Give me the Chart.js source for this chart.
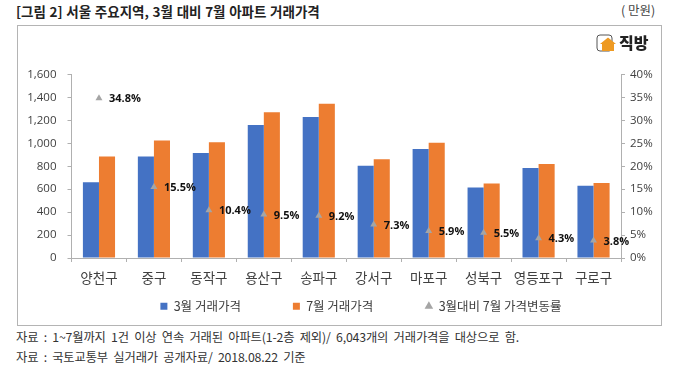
<!DOCTYPE html>
<html><head><meta charset="utf-8">
<script src="https://cdn.jsdelivr.net/npm/chart.js@4"></script>
<style>
html,body{margin:0;padding:0;background:#fff;width:680px;height:371px;overflow:hidden;font-family:"Noto Sans CJK KR","Noto Sans",sans-serif;color:#333}
.t{position:absolute;white-space:nowrap;line-height:1}
#frame{position:absolute;left:17px;top:25px;width:643px;height:299px;border:1px solid #b4b4b4;box-sizing:content-box}
#wrap{position:absolute;left:18px;top:26px;width:642px;height:298px}
</style></head><body>
<div class="t" style="left:16px;top:5px;font-size:13.5px;font-weight:700;word-spacing:.6px;color:#222">[그림 2] 서울 주요지역, 3월 대비 7월 아파트 거래가격</div>
<div class="t" style="left:621px;top:4px;font-size:12.5px;color:#444">( 만원)</div>
<div id="frame"></div>
<div id="wrap"><canvas id="c" width="642" height="298"></canvas></div>
<svg style="position:absolute;left:596px;top:34px" width="22" height="19" viewBox="0 0 22 19">
<rect x="1" y="1" width="15" height="16" rx="3" fill="#fff" stroke="#555" stroke-width="1"/>
<path d="M4 10 L12 3.5 L20 10 L18 10 L18 17 L6 17 L6 10 Z" fill="#ee9a22"/>
</svg>
<div class="t" style="left:619px;top:34px;font-size:16px;font-weight:900;color:#222">직방</div>
<div class="t" style="left:16px;top:331px;font-size:12.3px;letter-spacing:-.15px;word-spacing:2.7px;color:#333">자료 : 1~7월까지 1건 이상 연속 거래된 아파트(1-2층 제외)/ 6,043개의 거래가격을 대상으로 함.</div>
<div class="t" style="left:16px;top:351px;font-size:12.3px;letter-spacing:-.15px;word-spacing:2.7px;color:#333">자료 : 국토교통부 실거래가 공개자료/ 2018.08.22 기준</div>
<script>
const categories = ["양천구","중구","동작구","용산구","송파구","강서구","마포구","성북구","영등포구","구로구"];
const marchPrice = [660,885,915,1160,1230,805,950,615,785,630];
const julyPrice = [885,1025,1010,1270,1345,860,1005,650,820,655];
const changeRate = [34.8,15.5,10.4,9.5,9.2,7.3,5.9,5.5,4.3,3.8];
const seriesNames = ["3월 거래가격","7월 거래가격","3월대비 7월 가격변동률"];
const FONT = '"Noto Sans CJK KR","Noto Sans",sans-serif';
const TEXT = '#404040', AXIS = '#b0b0b0';

const rateLabels = {
  id:'rateLabels',
  afterDatasetsDraw(chart){
    const meta = chart.getDatasetMeta(2), ctx = chart.ctx;
    ctx.save();
    ctx.font = '700 11px "Open Sans",'+FONT;
    ctx.fillStyle = '#111';
    ctx.textBaseline = 'middle';
    meta.data.forEach((p,i)=>ctx.fillText(changeRate[i].toFixed(1)+'%', p.x+10, p.y+1));
    ctx.restore();
  }
};
/* Keeps the wide legend item spacing without letting it eat the plot height. */
const legendPlace = {
  id:'legendPlace',
  start(chart){
    const lg = chart.legend, fit = lg.fit;
    lg.fit = function(){ fit.call(this); this.height = 20; };
  },
  afterLayout(chart){
    const lg = chart.legend, pad = lg.options.labels.padding;
    lg.top = 282 - 8 - pad;
    lg.left += 22; lg.right += 22;
  }
};

new Chart(document.getElementById('c'),{
  data:{labels:categories,datasets:[
    {type:'bar',label:seriesNames[0],data:marchPrice,backgroundColor:'#4472C4',yAxisID:'y',order:2,barPercentage:1,categoryPercentage:0.585},
    {type:'bar',label:seriesNames[1],data:julyPrice,backgroundColor:'#ED7D31',yAxisID:'y',order:2,barPercentage:1,categoryPercentage:0.585},
    {type:'line',label:seriesNames[2],data:changeRate,showLine:false,yAxisID:'y2',order:1,pointStyle:'triangle',pointRadius:4,pointBackgroundColor:'#A5A5A5',pointBorderColor:'#A5A5A5',pointBorderWidth:0,backgroundColor:'#A5A5A5',borderColor:'#A5A5A5'}
  ]},
  options:{
    responsive:false,animation:false,
    layout:{padding:{top:48.5,left:0,right:0,bottom:12}},
    plugins:{
      title:{display:false},tooltip:{enabled:false},
      legend:{display:true,position:'bottom',
        labels:{usePointStyle:true,boxWidth:7,boxHeight:7,padding:52,color:TEXT,font:{family:FONT,size:12.5},
          generateLabels(chart){
            return chart.data.datasets.map((d,i)=>({text:d.label,datasetIndex:i,fillStyle:d.backgroundColor,strokeStyle:d.backgroundColor,lineWidth:0,pointStyle:i===2?'triangle':'rect',fontColor:TEXT}));
          }}}
    },
    scales:{
      x:{grid:{drawOnChartArea:false,color:AXIS,tickLength:4},border:{color:AXIS},
         ticks:{color:TEXT,font:{family:FONT,size:13.5},maxRotation:0,autoSkip:false,padding:8},
         afterFit(s){s.height=34;}},
      y:{position:'left',min:0,max:1600,grid:{drawOnChartArea:false,color:AXIS,tickLength:4},border:{color:AXIS},
         ticks:{stepSize:200,color:TEXT,font:{family:'"Open Sans",'+FONT,size:11.5},padding:11,callback:v=>v.toLocaleString('en-US')},
         afterFit(s){s.width=53.5;}},
      y2:{position:'right',min:0,max:40,grid:{drawOnChartArea:false,color:AXIS,tickLength:4},border:{color:AXIS},
         ticks:{stepSize:5,color:TEXT,font:{family:'"Open Sans",'+FONT,size:11.5},padding:5,callback:v=>v+'%'},
         afterFit(s){s.width=39;}}
    }
  },
  plugins:[rateLabels,legendPlace]
});
</script>
</body></html>
